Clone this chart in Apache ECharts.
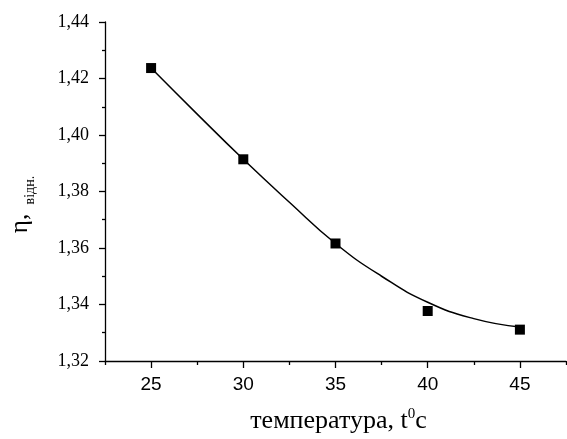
<!DOCTYPE html>
<html>
<head>
<meta charset="utf-8">
<script src="https://cdn.jsdelivr.net/npm/echarts@6/dist/echarts.min.js"></script>
<style>
  html, body { margin: 0; padding: 0; background: #fff; }
  #main { width: 567px; height: 439px; }
</style>
</head>
<body>
<div id="main"></div>
<script>
// точки вимірювань
var temps = [25, 30, 35, 40, 45];
var eta = [1.4237, 1.3914, 1.3616, 1.3377, 1.3311];
// апроксимуюча крива
var fitT = [25, 27.5, 30, 32.5, 35, 37.5, 40, 42.5, 45];
var fitEta = [1.4237, 1.4074, 1.3914, 1.3762, 1.3616, 1.3500, 1.3408, 1.3350, 1.3320];
// підписи осей
var xMajor = [25, 30, 35, 40, 45];
var xMinor = [22.5, 27.5, 32.5, 37.5, 42.5, 47.5];

var chart = echarts.init(document.getElementById('main'));

var option = {
  animation: false,
  grid: { left: 102, right: 1, top: 22, bottom: 74, containLabel: false },
  xAxis: [
    {
      type: 'value',
      min: 22.5,
      max: 47.5,
      splitLine: { show: false },
      axisLine: { show: true, onZero: false, lineStyle: { color: '#000', width: 1.3 } },
      axisTick: { show: true, customValues: xMajor, length: 7, lineStyle: { color: '#000', width: 1.3 } },
      axisLabel: {
        customValues: xMajor,
        margin: 14,
        color: '#000',
        fontFamily: 'Liberation Sans',
        fontSize: 19
      },
      name: '{n|температура, t}{sup|0}{n|c}',
      nameLocation: 'middle',
      nameGap: 46,
      nameTextStyle: {
        padding: [0, 0, 0, 6],
        rich: {
          n: { fontFamily: 'Liberation Serif', fontSize: 26, color: '#000', verticalAlign: 'bottom' },
          sup: { fontFamily: 'Liberation Serif', fontSize: 15, color: '#000', verticalAlign: 'top', padding: [0, 0, 12, 0] }
        }
      }
    },
    {
      type: 'value',
      min: 22.5,
      max: 47.5,
      position: 'bottom',
      splitLine: { show: false },
      axisLine: { show: false },
      axisTick: { show: true, customValues: xMinor, length: 4, lineStyle: { color: '#000', width: 1.3 } },
      axisLabel: { show: false }
    }
  ],
  yAxis: {
    type: 'value',
    min: 1.32,
    max: 1.44,
    interval: 0.02,
    splitLine: { show: false },
    axisLine: { show: true, onZero: false, lineStyle: { color: '#000', width: 1.3 } },
    axisTick: { show: true, length: 6, lineStyle: { color: '#000', width: 1.3 } },
    minorTick: { show: true, splitNumber: 2, length: 3, lineStyle: { color: '#000', width: 1.3 } },
    axisLabel: {
      margin: 16,
      color: '#000',
      fontFamily: 'Liberation Serif',
      fontSize: 18,
      formatter: function (v) { return v.toFixed(2).replace('.', ','); }
    },
    name: '{eta|η,} {sub|відн.}',
    nameLocation: 'middle',
    nameGap: 72,
    nameTextStyle: {
      padding: [0, 0, 0, -26],
      rich: {
        eta: { fontFamily: 'Liberation Serif', fontSize: 25, color: '#000', verticalAlign: 'bottom' },
        sub: { fontFamily: 'Liberation Serif', fontSize: 14, color: '#000', verticalAlign: 'bottom', padding: [0, 0, -4, 6] }
      }
    }
  },
  series: [
    {
      name: 'fit',
      type: 'line',
      data: fitT.map(function (t, i) { return [t, fitEta[i]]; }),
      smooth: true,
      showSymbol: false,
      lineStyle: { color: '#000', width: 1.5 },
      z: 2
    },
    {
      name: 'eta',
      type: 'scatter',
      data: temps.map(function (t, i) { return [t, eta[i]]; }),
      symbol: 'rect',
      symbolSize: 10,
      itemStyle: { color: '#000', opacity: 1 },
      z: 3
    }
  ]
};

chart.setOption(option);
</script>
</body>
</html>
